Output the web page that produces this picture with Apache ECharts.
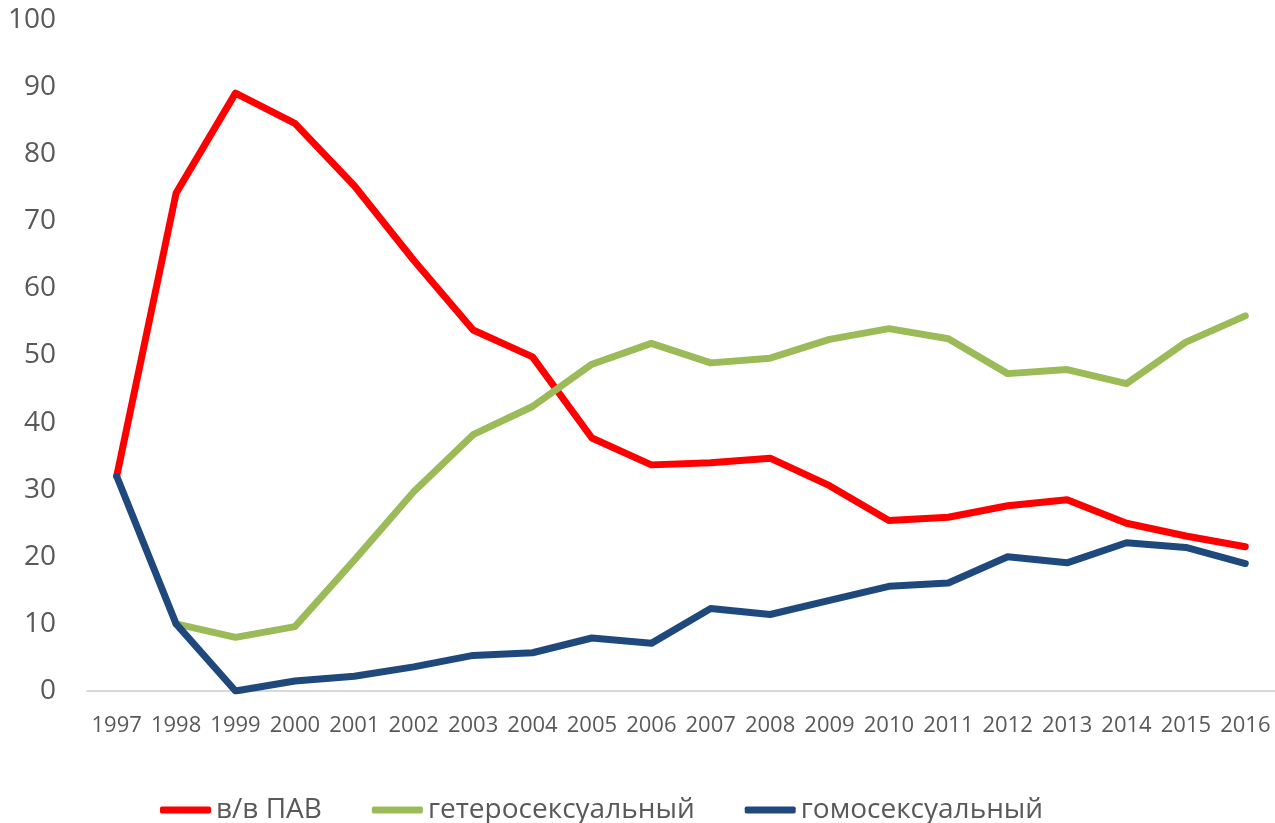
<!DOCTYPE html>
<html>
<head>
<meta charset="utf-8">
<script src="https://cdn.jsdelivr.net/npm/echarts@6/dist/echarts.min.js"></script>
<style>
  html, body { margin: 0; padding: 0; background: #ffffff; }
  #chart { width: 1275px; height: 823px; }
</style>
</head>
<body>
<div id="chart"></div>
<script>
// Years on the category axis
const years = ['1997','1998','1999','2000','2001','2002','2003','2004','2005','2006',
               '2007','2008','2009','2010','2011','2012','2013','2014','2015','2016'];

// Share of new cases by transmission route, %
const injecting = [32, 74.2, 89.1, 84.6, 75.3, 64.2, 53.8, 49.8, 37.7, 33.7,
                   34.0, 34.7, 30.6, 25.4, 25.9, 27.6, 28.5, 25.0, 23.1, 21.5];
const heterosexual = [null, 10.0, 8.0, 9.6, 19.5, 29.7, 38.2, 42.4, 48.7, 51.8,
                      48.9, 49.6, 52.4, 54.0, 52.5, 47.3, 47.9, 45.8, 52.0, 55.9];
const homosexual = [32, 10.0, 0, 1.5, 2.2, 3.6, 5.3, 5.7, 7.9, 7.1,
                    12.3, 11.4, 13.5, 15.6, 16.1, 20.0, 19.1, 22.1, 21.4, 19.0];

const seriesNames = ['в/в ПАВ', 'гетеросексуальный', 'гомосексуальный'];
const seriesColors = ['#FF0000', '#9BBB59', '#1F497D'];
const seriesData = [injecting, heterosexual, homosexual];

const chart = echarts.init(document.getElementById('chart'), null, { renderer: 'canvas' });

const font = '"Open Sans", "DejaVu Sans", sans-serif';

chart.setOption({
  animation: false,
  backgroundColor: '#ffffff',
  textStyle: { fontFamily: font },
  grid: { left: 87, top: 20, width: 1192, height: 671, containLabel: false },
  legend: {
    left: 155,
    top: 791,
    itemWidth: 51,
    itemHeight: 7,
    itemGap: 50,
    icon: 'roundRect',
    textStyle: { fontSize: 28, color: '#595959', fontFamily: font },
    data: seriesNames
  },
  xAxis: {
    type: 'category',
    data: years,
    boundaryGap: true,
    axisLine: { show: true, lineStyle: { color: '#D9D9D9', width: 2 } },
    axisTick: { show: false },
    axisLabel: { interval: 0, margin: 24, fontSize: 22, color: '#595959', fontFamily: font },
    splitLine: { show: false }
  },
  yAxis: {
    type: 'value',
    min: 0,
    max: 100,
    interval: 10,
    axisLine: { show: false },
    axisTick: { show: false },
    splitLine: { show: false },
    axisLabel: { margin: 31, fontSize: 28, color: '#595959', fontFamily: font }
  },
  series: seriesNames.map((name, i) => ({
    name: name,
    type: 'line',
    data: seriesData[i],
    symbol: 'none',
    showSymbol: false,
    color: seriesColors[i],
    lineStyle: { width: 7, color: seriesColors[i], cap: 'round', join: 'round' },
    z: 2 + i
  }))
});
</script>
</body>
</html>
